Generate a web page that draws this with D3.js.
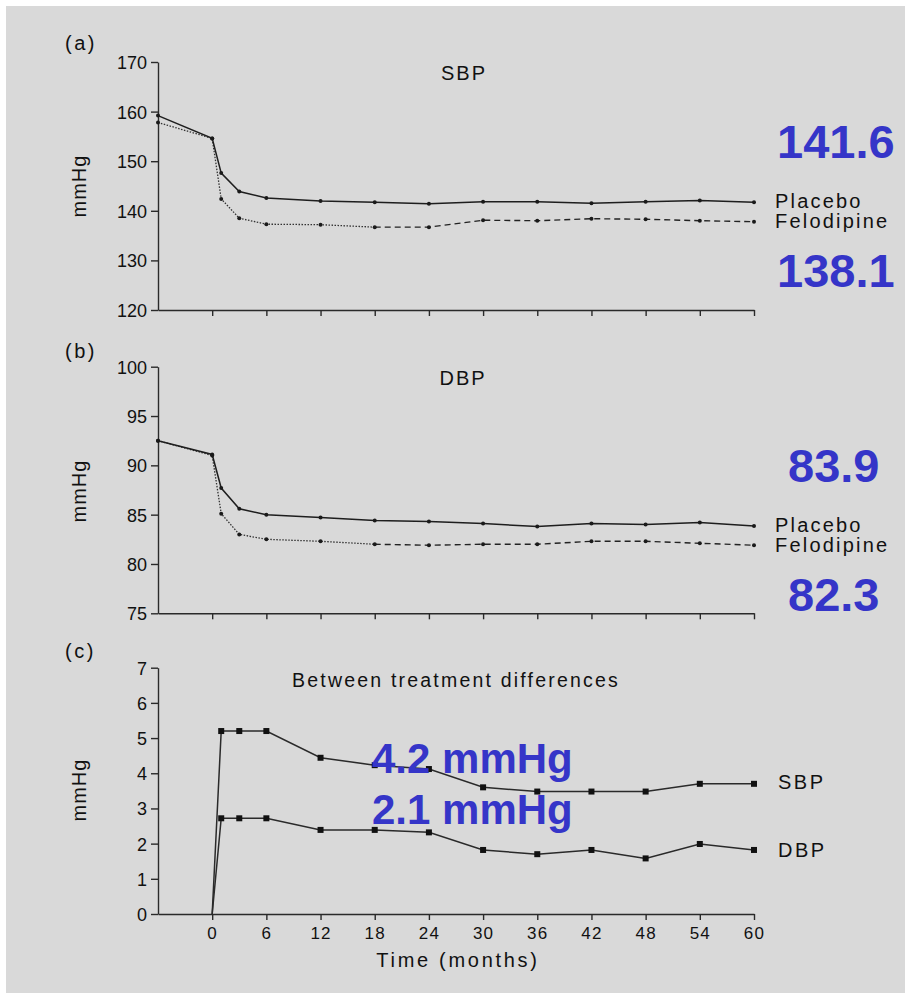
<!DOCTYPE html>
<html>
<head>
<meta charset="utf-8">
<script src="https://cdn.jsdelivr.net/npm/d3@7"></script>
<style>
  body { margin: 0; background: #fff; }
  svg text { font-family: Arial, "Liberation Sans", sans-serif; fill: #111; }
  .axis path, .axis line { stroke: #2a2a2a; stroke-width: 1.4; }
  .axis text { font-family: Arial, "Liberation Sans", sans-serif; fill: #111; }
</style>
</head>
<body>
<div id="chart"></div>
<script>
// months measured from randomisation, -6 = run-in baseline
const months = [-6, 0, 1, 3, 6, 12, 18, 24, 30, 36, 42, 48, 54, 60];
const sbpPlacebo    = [159.2, 154.6, 147.6, 143.9, 142.6, 142.0, 141.7, 141.4, 141.8, 141.8, 141.5, 141.8, 142.1, 141.7];
const sbpFelodipine = [157.8, 154.6, 142.4, 138.5, 137.3, 137.2, 136.7, 136.7, 138.1, 138.0, 138.4, 138.3, 138.0, 137.8];
const dbpPlacebo    = [92.5, 91.1, 87.7, 85.6, 85.0, 84.7, 84.4, 84.3, 84.1, 83.8, 84.1, 84.0, 84.2, 83.85];
const dbpFelodipine = [92.5, 91.0, 85.1, 83.0, 82.5, 82.3, 82.0, 81.9, 82.0, 82.0, 82.3, 82.3, 82.1, 81.9];

const diffMonths = [0, 1, 3, 6, 12, 18, 24, 30, 36, 42, 48, 54, 60];
const diffSBP = [0, 5.2, 5.2, 5.2, 4.44, 4.23, 4.12, 3.6, 3.48, 3.48, 3.48, 3.7, 3.7];
const diffDBP = [0, 2.72, 2.72, 2.72, 2.39, 2.39, 2.32, 1.82, 1.7, 1.82, 1.58, 1.99, 1.82];

const xTicks = [0, 6, 12, 18, 24, 30, 36, 42, 48, 54, 60];
const sbpTicks = [120, 130, 140, 150, 160, 170];
const dbpTicks = [75, 80, 85, 90, 95, 100];
const diffTicks = [0, 1, 2, 3, 4, 5, 6, 7];

// month where the felodipine line changes from dotted to dashed
const dashFrom = 18;

const width = 905, height = 993;
const blue = '#3535c8';

const svg = d3.select('#chart').append('svg')
  .attr('width', width)
  .attr('height', height);

svg.append('rect')
  .attr('x', 6).attr('y', 6)
  .attr('width', width - 6).attr('height', height - 6)
  .attr('fill', '#d9d9d9');

const x = d3.scaleLinear().domain([-6, 60]).range([158, 754]);

function zip(xs, ys) {
  return xs.map((m, i) => ({ m, v: ys[i] }));
}

function addText(txt, px, py, opts = {}) {
  const t = svg.append('text')
    .attr('x', px).attr('y', py)
    .attr('font-size', opts.size || 20)
    .attr('letter-spacing', opts.ls || 0)
    .attr('text-anchor', opts.anchor || 'start')
    .text(txt);
  if (opts.weight) t.attr('font-weight', opts.weight);
  if (opts.fill) t.style('fill', opts.fill);
  if (opts.rotate) t.attr('transform', `rotate(-90, ${px}, ${py})`);
  return t;
}

function drawAxes(y, ticks, bottom, showXLabels) {
  svg.append('g')
    .attr('class', 'axis')
    .attr('transform', `translate(0,${bottom})`)
    .call(d3.axisBottom(x).tickValues(xTicks).tickSize(6).tickSizeOuter(0)
      .tickPadding(7).tickFormat(showXLabels ? d3.format('d') : ''))
    .call(g => g.selectAll('text').attr('font-size', 17).attr('letter-spacing', 1.2));

  svg.append('g')
    .attr('class', 'axis')
    .attr('transform', `translate(${x(-6)},0)`)
    .call(d3.axisLeft(y).tickValues(ticks).tickSize(7).tickSizeOuter(0)
      .tickPadding(4).tickFormat(d3.format('d')))
    .call(g => g.selectAll('text').attr('font-size', 18).attr('dy', '0.36em'));
}

function bpPanel(yDomain, yRange, ticks, placebo, felo) {
  const y = d3.scaleLinear().domain(yDomain).range(yRange);
  drawAxes(y, ticks, yRange[0], false);

  const line = d3.line().x(d => x(d.m)).y(d => y(d.v));
  const pl = zip(months, placebo);
  const fe = zip(months, felo);

  svg.append('path')
    .datum(fe.filter(d => d.m <= dashFrom))
    .attr('d', line)
    .attr('fill', 'none')
    .attr('stroke', '#333')
    .attr('stroke-width', 1.3)
    .attr('stroke-dasharray', '1.5,1.5');

  svg.append('path')
    .datum(fe.filter(d => d.m >= dashFrom))
    .attr('d', line)
    .attr('fill', 'none')
    .attr('stroke', '#222')
    .attr('stroke-width', 1.4)
    .attr('stroke-dasharray', '6,4');

  svg.append('path')
    .datum(pl)
    .attr('d', line)
    .attr('fill', 'none')
    .attr('stroke', '#1e1e1e')
    .attr('stroke-width', 1.5);

  [pl, fe].forEach(series => {
    svg.append('g').selectAll('circle')
      .data(series)
      .enter()
      .append('circle')
      .attr('cx', d => x(d.m))
      .attr('cy', d => y(d.v))
      .attr('r', 2)
      .attr('fill', '#1a1a1a');
  });
}

// (a) SBP
bpPanel([120, 170], [310, 62], sbpTicks, sbpPlacebo, sbpFelodipine);
addText('(a)', 65, 50, { ls: 2.5 });
addText('mmHg', 86, 186, { anchor: 'middle', rotate: true, ls: 1 });
addText('SBP', 464, 80, { anchor: 'middle', ls: 2 });
addText('Placebo', 775, 208, { ls: 2.2 });
addText('Felodipine', 775, 228, { ls: 2.2 });
addText('141.6', 777, 158, { size: 47, weight: 'bold', fill: blue });
addText('138.1', 777, 287, { size: 47, weight: 'bold', fill: blue });

// (b) DBP
bpPanel([75, 100], [613.3, 366.7], dbpTicks, dbpPlacebo, dbpFelodipine);
addText('(b)', 65, 358, { ls: 2.5 });
addText('mmHg', 86, 491, { anchor: 'middle', rotate: true, ls: 1 });
addText('DBP', 463, 385, { anchor: 'middle', ls: 2 });
addText('Placebo', 775, 532, { ls: 2.2 });
addText('Felodipine', 775, 552, { ls: 2.2 });
addText('83.9', 788, 482, { size: 47, weight: 'bold', fill: blue });
addText('82.3', 788, 611, { size: 47, weight: 'bold', fill: blue });

// (c) between treatment differences
const yDiff = d3.scaleLinear().domain([0, 7]).range([914, 667.7]);
drawAxes(yDiff, diffTicks, 914, true);

const diffLine = d3.line().x(d => x(d.m)).y(d => yDiff(d.v));
[diffSBP, diffDBP].forEach(vals => {
  const pts = zip(diffMonths, vals);
  svg.append('path')
    .datum(pts)
    .attr('d', diffLine)
    .attr('fill', 'none')
    .attr('stroke', '#2a2a2a')
    .attr('stroke-width', 1.5);
  svg.append('g').selectAll('rect')
    .data(pts.filter(d => d.m > 0))
    .enter()
    .append('rect')
    .attr('x', d => x(d.m) - 3)
    .attr('y', d => yDiff(d.v) - 3)
    .attr('width', 6)
    .attr('height', 6)
    .attr('fill', '#111');
});

addText('(c)', 65, 658, { ls: 2.5 });
addText('mmHg', 86, 790, { anchor: 'middle', rotate: true, ls: 1 });
addText('Between treatment differences', 456, 687, { anchor: 'middle', size: 19.5, ls: 2.2 });
addText('SBP', 778, 789, { ls: 2.5 });
addText('DBP', 778, 857, { ls: 2.5 });
addText('Time (months)', 458, 967, { anchor: 'middle', ls: 2.7 });
addText('4.2 mmHg', 372, 773, { size: 42, weight: 'bold', fill: blue });
addText('2.1 mmHg', 372, 824, { size: 42, weight: 'bold', fill: blue });
</script>
</body>
</html>
